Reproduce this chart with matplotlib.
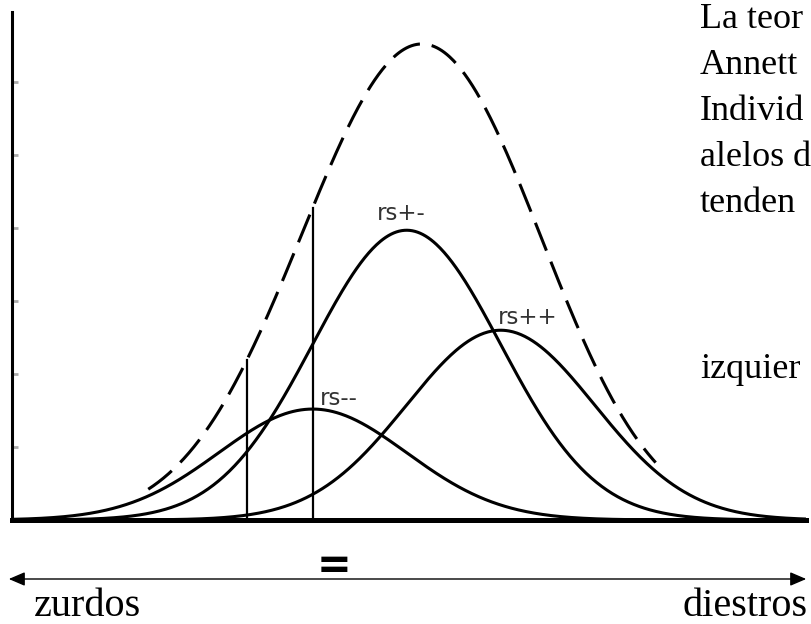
import numpy as np
import matplotlib
matplotlib.use('Agg')
import matplotlib.pyplot as plt
from matplotlib.patches import FancyArrowPatch

# genotipos: centro, altura (misma dispersión)
genotipos = ['rs--', 'rs+-', 'rs++']
centros = [3.2, 4.2, 5.2]
alturas = [1.52, 3.97, 2.6]
sigma = 1.0
# rango de la curva discontinua (suma)
suma_desde, suma_hasta = 1.45, 6.85
# líneas verticales
cortes = [2.5, 3.2]
# posiciones de las etiquetas
etiquetas_xy = [(3.28, 1.67), (3.88, 4.2), (5.17, 2.77)]

# texto del documento, cortado en el borde como en el original
texto_derecha = ['La teor', 'Annett', 'Individ', 'alelos d', 'tenden']
texto_izq = 'izquier'

W, H = 812, 624
fig = plt.figure(figsize=(W / 100, H / 100), dpi=100)
ax = fig.add_axes([12 / W, 1 - 520 / H, 794 / W, 508 / H])
ax.set_xlim(0, 8.45)
ax.set_ylim(0, 6.96)


def gauss(x, c, a):
    return a * np.exp(-(x - c) ** 2 / (2 * sigma ** 2))


x = np.linspace(0, 8.45, 600)
for c, a in zip(centros, alturas):
    ax.plot(x, gauss(x, c, a), color='black', lw=2.2, solid_capstyle='butt')

xs = np.linspace(suma_desde, suma_hasta, 400)
total = sum(gauss(xs, c, a) for c, a in zip(centros, alturas))
ax.plot(xs, total, color='black', lw=2.2, linestyle=(0, (9.8, 3.9)))

for xc in cortes:
    top = sum(gauss(xc, c, a) for c, a in zip(centros, alturas))
    ax.plot([xc, xc], [0, top], color='black', lw=1.6)

for nombre, (tx, ty) in zip(genotipos, etiquetas_xy):
    ax.text(tx, ty, nombre, fontsize=16.5, color='#333333', va='center', ha='left',
            family='DejaVu Sans')

for s in ['top', 'right']:
    ax.spines[s].set_visible(False)
ax.spines['left'].set_linewidth(2.2)
ax.spines['bottom'].set_linewidth(3.6)
ax.set_xticks([])
ax.set_yticks(range(1, 7))
ax.set_yticklabels([])
ax.tick_params(axis='y', direction='in', length=4.5, width=2, color='#aaaaaa')

serif = ['Liberation Serif', 'DejaVu Serif']
for i, linea in enumerate(texto_derecha):
    fig.text(700 / W, 1 - (28 + i * 46) / H, linea, fontsize=26, family=serif,
             va='baseline', ha='left')
fig.text(700 / W, 1 - 378 / H, texto_izq, fontsize=26, family=serif,
         va='baseline', ha='left')

# eje inferior con flechas
flecha = FancyArrowPatch((6 / W, 1 - 579 / H), (809 / W, 1 - 579 / H),
                         transform=fig.transFigure, arrowstyle='<|-|>,head_length=0.7,head_width=0.3',
                         mutation_scale=14, lw=1.0, color='black')
fig.patches.append(flecha)
fig.text(334 / W, 1 - 566 / H, '=', fontsize=30, fontweight='bold', family='DejaVu Sans',
         ha='center', va='center')
fig.text(34 / W, 1 - 616 / H, 'zurdos', fontsize=29, family=serif, va='baseline', ha='left')
fig.text(808 / W, 1 - 616 / H, 'diestros', fontsize=29, family=serif, va='baseline', ha='right')

fig.savefig('out.png', dpi=100)
